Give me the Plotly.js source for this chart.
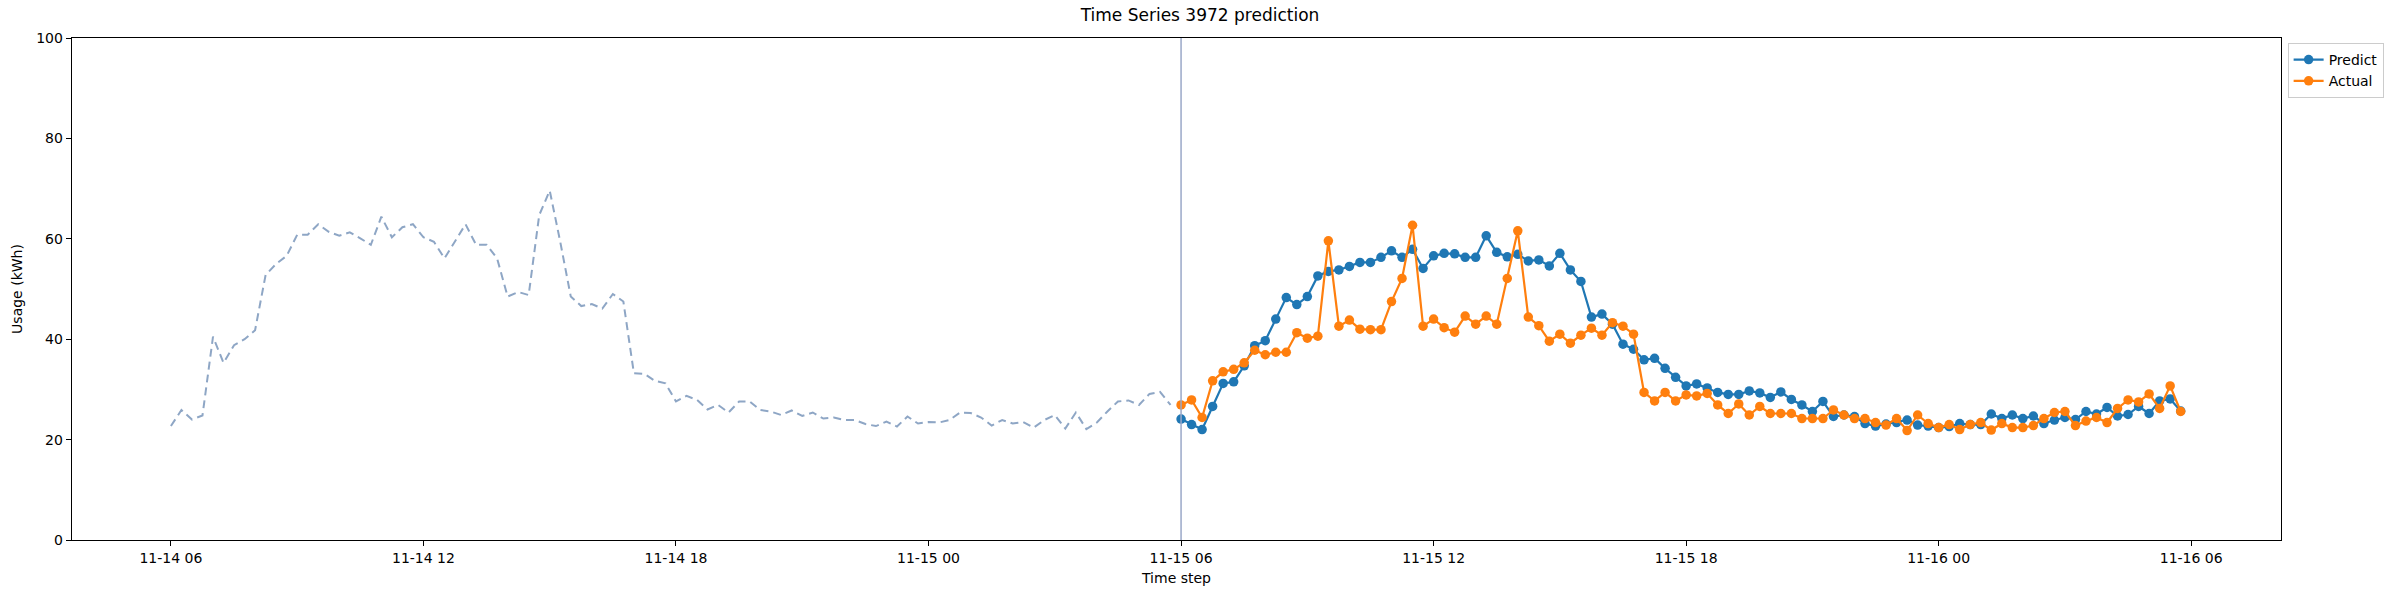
<!DOCTYPE html>
<html>
<head>
<meta charset="utf-8">
<script src="https://cdn.plot.ly/plotly-3.0.1.min.js"></script>
<style>
  body { margin: 0; background: #fff; }
  #chart { width: 2400px; height: 600px; }
</style>
</head>
<body>
<div id="chart"></div>
<script>
// 15-minute readings
const historyStart = '2023-11-14T06:00:00';
const forecastStart = '2023-11-15T06:00:00';

const history = [
  22.7, 25.9, 24.0, 24.8, 40.5, 35.3, 38.8, 40.0, 41.8, 52.8, 55.0, 56.6,
  60.8, 60.8, 62.9, 61.4, 60.6, 61.3, 60.1, 58.8, 64.4, 60.3, 62.3, 62.9,
  60.3, 59.4, 56.1, 59.4, 62.9, 58.8, 58.8, 56.1, 48.5, 49.4, 48.8, 64.7,
  69.6, 59.4, 48.5, 46.6, 47.0, 46.1, 49.0, 47.5, 33.2, 33.1, 31.7, 31.2,
  27.6, 28.7, 27.9, 26.0, 26.9, 25.4, 27.6, 27.6, 25.9, 25.6, 24.9, 25.8,
  24.7, 25.4, 24.2, 24.4, 23.9, 23.9, 23.1, 22.7, 23.6, 22.6, 24.6, 23.2,
  23.5, 23.4, 23.9, 25.4, 25.3, 24.4, 22.8, 23.9, 23.2, 23.5, 22.4, 23.9,
  24.9, 22.2, 25.4, 22.1, 23.4, 25.6, 27.6, 27.8, 26.9, 29.1, 29.5, 26.9
];

const predict = [
  24.1, 23.0, 22.0, 26.6, 31.2, 31.5, 34.7, 38.7, 39.7, 44.0, 48.3, 46.9,
  48.5, 52.6, 53.5, 53.8, 54.5, 55.3, 55.3, 56.3, 57.6, 56.3, 57.9, 54.1,
  56.6, 57.1, 57.0, 56.3, 56.3, 60.6, 57.3, 56.4, 56.9, 55.6, 55.8, 54.6,
  57.1, 53.8, 51.5, 44.4, 45.0, 43.0, 39.0, 38.0, 35.9, 36.2, 34.2, 32.4,
  30.7, 31.1, 30.3, 29.4, 29.0, 29.0, 29.7, 29.3, 28.4, 29.5, 28.0, 26.9,
  25.6, 27.6, 24.6, 24.9, 24.6, 23.2, 22.7, 23.1, 23.4, 23.9, 22.9, 22.7,
  22.4, 22.6, 23.2, 23.0, 23.0, 25.1, 24.2, 24.9, 24.2, 24.7, 23.2, 23.9,
  24.4, 24.0, 25.6, 25.1, 26.4, 24.7, 25.0, 26.6, 25.2, 27.7, 28.1, 25.7
];

const actual = [
  26.9, 27.9, 24.4, 31.7, 33.5, 34.0, 35.3, 37.8, 36.9, 37.4, 37.4, 41.3,
  40.2, 40.6, 59.6, 42.6, 43.8, 42.0, 41.9, 41.9, 47.5, 52.1, 62.7, 42.6,
  44.0, 42.3, 41.4, 44.6, 43.0, 44.6, 43.0, 52.1, 61.6, 44.4, 42.7, 39.6,
  41.0, 39.2, 40.8, 42.2, 40.8, 43.3, 42.6, 41.0, 29.4, 27.7, 29.4, 27.7,
  28.9, 28.7, 29.2, 26.9, 25.2, 27.1, 24.9, 26.6, 25.2, 25.2, 25.2, 24.2,
  24.2, 24.2, 25.9, 24.9, 24.2, 24.2, 23.4, 22.9, 24.2, 21.8, 24.9, 23.2,
  22.4, 23.0, 22.0, 23.0, 23.4, 21.9, 23.2, 22.4, 22.4, 22.8, 24.2, 25.4,
  25.6, 22.8, 23.7, 24.4, 23.4, 26.2, 27.9, 27.5, 29.1, 26.2, 30.7, 25.6
];

function timeAxis(start, n) {
  const t0 = new Date(start + 'Z').getTime();
  const out = [];
  for (let i = 0; i < n; i++) {
    out.push(new Date(t0 + i * 15 * 60000).toISOString().slice(0, 19).replace('T', ' '));
  }
  return out;
}

const historyTimes = timeAxis(historyStart, history.length);
const forecastTimes = timeAxis(forecastStart, predict.length);

const data = [
  {
    x: historyTimes, y: history, type: 'scatter', mode: 'lines',
    line: { color: '#8ea6c5', width: 2, dash: '8px,5px' },
    showlegend: false, hoverinfo: 'x+y'
  },
  {
    x: forecastTimes, y: predict, type: 'scatter', mode: 'lines+markers', name: 'Predict',
    line: { color: '#1f77b4', width: 2.2 },
    marker: { color: '#1f77b4', size: 9.5 }
  },
  {
    x: forecastTimes, y: actual, type: 'scatter', mode: 'lines+markers', name: 'Actual',
    line: { color: '#ff7f0e', width: 2.2 },
    marker: { color: '#ff7f0e', size: 9.5 }
  }
];

const layout = {
  width: 2400,
  height: 600,
  margin: { l: 72, r: 119, t: 38, b: 60 },
  paper_bgcolor: '#fff',
  plot_bgcolor: '#fff',
  font: { family: 'DejaVu Sans', size: 14, color: '#000' },
  title: { text: 'Time Series 3972 prediction', font: { size: 17 }, x: 0.5, xanchor: 'center', y: 0.985, yanchor: 'top' },
  xaxis: {
    type: 'date',
    range: ['2023-11-14 03:39', '2023-11-16 08:08'],
    dtick: 6 * 3600000,
    tick0: '2023-11-14 00:00',
    tickformat: '%m-%d %H',
    showgrid: false, zeroline: false,
    showline: true, linecolor: '#000', linewidth: 1.3, mirror: true,
    ticks: 'outside', ticklen: 5, tickcolor: '#000',
    title: { text: 'Time step', font: { size: 14 }, standoff: 8 }
  },
  yaxis: {
    range: [0, 100],
    dtick: 20,
    showgrid: false, zeroline: false,
    showline: true, linecolor: '#000', linewidth: 1.3, mirror: true,
    ticks: 'outside', ticklen: 5, tickcolor: '#000',
    title: { text: 'Usage (kWh)', font: { size: 14 }, standoff: 10 }
  },
  shapes: [{
    type: 'line', xref: 'x', yref: 'paper',
    x0: forecastStart.replace('T', ' '), x1: forecastStart.replace('T', ' '), y0: 0, y1: 1,
    line: { color: '#9aa8c8', width: 1.5 }
  }],
  legend: {
    x: 1.003, xanchor: 'left', y: 0.99, yanchor: 'top',
    bordercolor: '#cccccc', borderwidth: 1, bgcolor: '#fff',
    font: { size: 14 }
  },
  showlegend: true
};

Plotly.newPlot('chart', data, layout, { displayModeBar: false, staticPlot: true });
</script>
</body>
</html>
